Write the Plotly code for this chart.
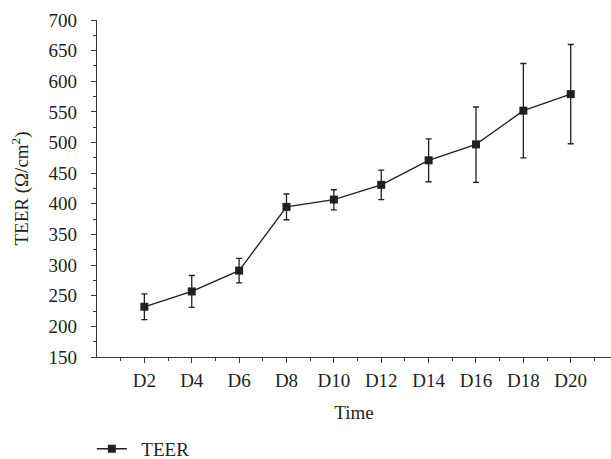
import plotly.graph_objects as go

days = [2, 4, 6, 8, 10, 12, 14, 16, 18, 20]
labels = ["D2", "D4", "D6", "D8", "D10", "D12", "D14", "D16", "D18", "D20"]
teer = [232, 257, 291, 395, 407, 431, 471, 497, 552, 579]
err_plus = [21, 26, 20, 21, 16, 24, 35, 61, 77, 81]
err_minus = [21, 26, 20, 21, 17, 24, 35, 62, 77, 81]
minor_days = [1, 3, 5, 7, 9, 11, 13, 15, 17, 19, 21]

font = "Liberation Serif, Times New Roman, serif"
ink = "#231f20"
axc = "#3a3a3a"

fig = go.Figure()
fig.add_trace(go.Scatter(
    x=days, y=teer, mode="lines+markers", name="\u00a0\u00a0TEER",
    line=dict(color=ink, width=1.3),
    marker=dict(symbol="square", size=8, color=ink),
    error_y=dict(type="data", symmetric=False, array=err_plus, arrayminus=err_minus,
                 color=ink, thickness=1.3, width=3),
))

fig.update_layout(
    template="none",
    width=611, height=459,
    margin=dict(l=97, r=0, t=20, b=102, pad=0),
    paper_bgcolor="white", plot_bgcolor="white",
    font=dict(family=font, size=19, color=ink),
    showlegend=True,
    legend=dict(orientation="h", x=-0.01, xanchor="left",
                yref="container", y=0.022, yanchor="middle",
                font=dict(family=font, size=19, color=ink), itemwidth=30,
                bgcolor="rgba(0,0,0,0)"),
    xaxis=dict(
        automargin=False,
        range=[0, 21.7], tickmode="array", tickvals=days, ticktext=labels,
        tickfont=dict(family=font, size=19, color=ink),
        showline=True, linecolor=axc, linewidth=1.3,
        ticks="outside", ticklen=5, tickwidth=1.2, tickcolor=axc,
        ticklabelstandoff=1,
        showgrid=False, zeroline=False,
        minor=dict(tickmode="array", tickvals=minor_days, ticks="outside",
                   ticklen=3, tickwidth=1, tickcolor=axc, showgrid=False),
        title=dict(text="Time", standoff=15, font=dict(family=font, size=19, color=ink)),
    ),
    yaxis=dict(
        automargin=False,
        range=[150, 700], tickmode="linear", dtick=50, tick0=150,
        tickfont=dict(family=font, size=19, color=ink),
        showline=True, linecolor=axc, linewidth=1.3,
        ticks="outside", ticklen=5, tickwidth=1.2, tickcolor=axc,
        ticklabelstandoff=10,
        showgrid=False, zeroline=False,
        minor=dict(dtick=25, tick0=150, ticks="outside", ticklen=3, tickwidth=1,
                   tickcolor=axc, showgrid=False),
        title=dict(text="TEER (Ω/cm<sup>2</sup>)", standoff=14,
                   font=dict(family=font, size=19, color=ink)),
    ),
)

fig.write_html("out.html", config={"displayModeBar": False},
               post_script="document.body.style.margin='0';")
